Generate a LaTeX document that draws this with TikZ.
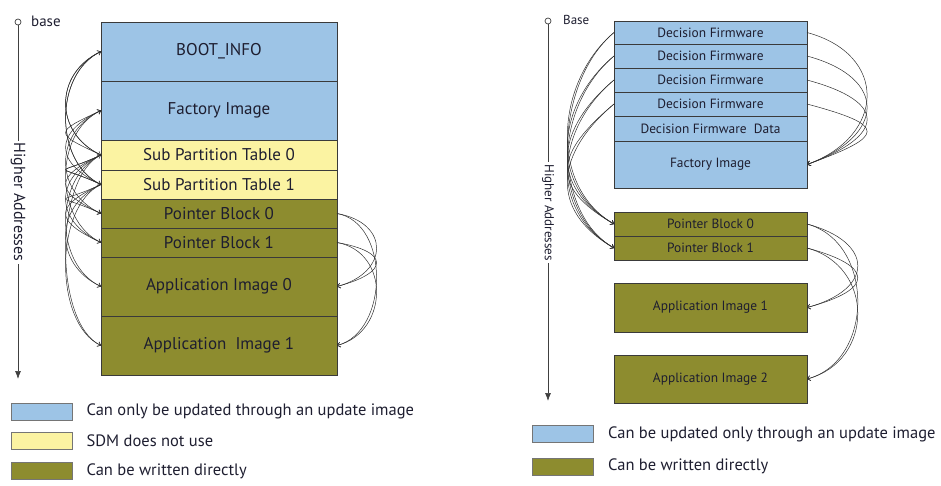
\documentclass[tikz,border=0pt]{standalone}
\usepackage{fontspec}
\setmainfont{PT Sans}
\usetikzlibrary{arrows.meta,positioning}
\definecolor{updblue}{HTML}{9DC4E6}
\definecolor{sdmyellow}{HTML}{FBF3A2}
\definecolor{directolive}{HTML}{8D8C2F}
\definecolor{partline}{HTML}{3A3A3A}
\definecolor{linkgray}{HTML}{303030}
\definecolor{inkcol}{HTML}{1E1E30}
\tikzset{
	part/.style={draw=partline, line width=0.9pt, inner sep=0pt, outer sep=0pt, text=inkcol},
	partL/.style={part, minimum width=236pt, font=\fontsize{17}{19}\selectfont},
	partR/.style={part, minimum width=193pt, font=\fontsize{13.4}{15}\selectfont},
	link/.style={draw=linkgray, line width=0.5pt, -{Straight Barb[length=3pt,width=5pt]}},
	legbox/.style={draw=partline!70, line width=0.9pt, minimum width=61pt, minimum height=17pt, inner sep=0pt},
	legtext/.style={inner sep=0pt, anchor=west, text=inkcol, font=\fontsize{16.5}{18}\selectfont},
	axisline/.style={draw=black!75, line width=0.7pt, -{Latex[length=8pt,width=6pt]}},
	axislabel/.style={fill=white, inner sep=2pt, text=inkcol}
}
\begin{document}
\begin{tikzpicture}[x=1pt, y=1pt]
	\useasboundingbox (0,0) rectangle (941,-485);

	% left layout
	\node[partL, fill=updblue, minimum height=59pt, anchor=north west] (boot) at (101,-22) {BOOT\_INFO};
	\node[partL, fill=updblue, minimum height=59pt, below=0pt of boot] (factL) {Factory Image};
	\node[partL, fill=sdmyellow, minimum height=30pt, below=0pt of factL] (spt0) {Sub Partition Table 0};
	\node[partL, fill=sdmyellow, minimum height=29pt, below=0pt of spt0] (spt1) {Sub Partition Table 1};
	\node[partL, fill=directolive, minimum height=29pt, below=0pt of spt1] (pbL0) {Pointer Block 0};
	\node[partL, fill=directolive, minimum height=29pt, below=0pt of pbL0] (pbL1) {Pointer Block 1};
	\node[partL, fill=directolive, minimum height=59pt, below=0pt of pbL1] (app0) {Application Image 0};
	\node[partL, fill=directolive, minimum height=59pt, below=0pt of app0] (app1) {Application\ \ Image 1};

	% left address axis
	\node[circle, draw=black!75, line width=0.7pt, minimum size=6pt, inner sep=0pt] (baseL) at (18,-22) {};
	\node[anchor=west, inner sep=0pt, text=inkcol, font=\fontsize{15}{17}\selectfont] (baseLtxt) at (31,-21) {base};
	\coordinate (endL) at (18,-379);
	\draw[axisline] (baseL.south) -- (endL) node[midway, rotate=-90, axislabel, font=\fontsize{16}{18}\selectfont] (addrL) {Higher Addresses};

	% links on the left side
	\foreach \s/\t in {boot/spt0, boot/spt1, spt0/spt1, spt0/pbL0, spt0/pbL1, spt0/app0, spt0/app1,
		spt1/pbL0, spt1/pbL1, spt1/app0, spt1/app1, factL/pbL0}
		\draw[link] (\s.west) to[out=205, in=155, distance=52pt] (\t.west);
	\foreach \s/\t in {spt0/boot, spt0/factL, spt1/boot, spt1/factL, spt1/spt0, pbL1/factL}
		\draw[link] (\s.west) to[out=155, in=205, distance=52pt] (\t.west);
	\foreach \s in {pbL0, pbL1}
		\foreach \t in {app0, app1}
			\draw[link] (\s.east) to[out=-10, in=15, distance=54pt] (\t.east);

	% right layout
	\node[partR, fill=updblue, minimum height=23pt, anchor=north west] (df1) at (614,-21) {Decision Firmware};
	\node[partR, fill=updblue, minimum height=24pt, below=0pt of df1] (df2) {Decision Firmware};
	\node[partR, fill=updblue, minimum height=24pt, below=0pt of df2] (df3) {Decision Firmware};
	\node[partR, fill=updblue, minimum height=24pt, below=0pt of df3] (df4) {Decision Firmware};
	\node[partR, fill=updblue, minimum height=25pt, below=0pt of df4] (dfd) {Decision Firmware\ \ Data};
	\node[partR, fill=updblue, minimum height=47pt, below=0pt of dfd] (factR) {Factory Image};
	\node[partR, fill=directolive, minimum height=24pt, below=24pt of factR] (pbR0) {Pointer Block 0};
	\node[partR, fill=directolive, minimum height=24pt, below=0pt of pbR0] (pbR1) {Pointer Block 1};
	\node[partR, fill=directolive, minimum height=49pt, below=23pt of pbR1] (appR1) {Application Image 1};
	\node[partR, fill=directolive, minimum height=48pt, below=23pt of appR1] (appR2) {Application Image 2};

	% right address axis
	\node[circle, draw=black!75, line width=0.7pt, minimum size=6pt, inner sep=0pt] (baseR) at (548,-21) {};
	\node[anchor=west, inner sep=0pt, text=inkcol, font=\fontsize{13}{15}\selectfont] (baseRtxt) at (563,-20) {Base};
	\coordinate (endR) at (548,-401);
	\draw[axisline] (baseR.south) -- (endR) node[midway, rotate=-90, axislabel, font=\fontsize{13}{15}\selectfont] (addrR) {Higher Addresses};

	% links on the right layout
	\foreach \s in {df1, df2, df3, df4}
		\foreach \t in {pbR0, pbR1}
			\draw[link] (\s.west) to[out=220, in=150, distance=76pt] (\t.west);
	\foreach \s in {df1, df2, df3, df4}
		\draw[link] (\s.east) to[out=-15, in=20, distance=84pt] (factR.east);
	\foreach \s in {pbR0, pbR1}
		\foreach \t in {appR1, appR2}
			\draw[link] (\s.east) to[out=-15, in=15, distance=70pt] (\t.east);

	% legends
	\node[legbox, fill=updblue] (keyL1) at (41.5,-411.5) {};
	\node[legbox, fill=sdmyellow] (keyL2) at (41.5,-440.5) {};
	\node[legbox, fill=directolive] (keyL3) at (41.5,-471) {};
	\node[legtext, right=14pt of keyL1] (txtL1) {Can only be updated through an update image};
	\node[legtext, right=14pt of keyL2] (txtL2) {SDM does not use};
	\node[legtext, right=14pt of keyL3] (txtL3) {Can be written directly};

	\node[legbox, fill=updblue] (keyR1) at (563,-434) {};
	\node[legbox, fill=directolive] (keyR2) at (563,-466.5) {};
	\node[legtext, right=14pt of keyR1] (txtR1) {Can be updated only through an update image};
	\node[legtext, right=14pt of keyR2] (txtR2) {Can be written directly};
\end{tikzpicture}
\end{document}
